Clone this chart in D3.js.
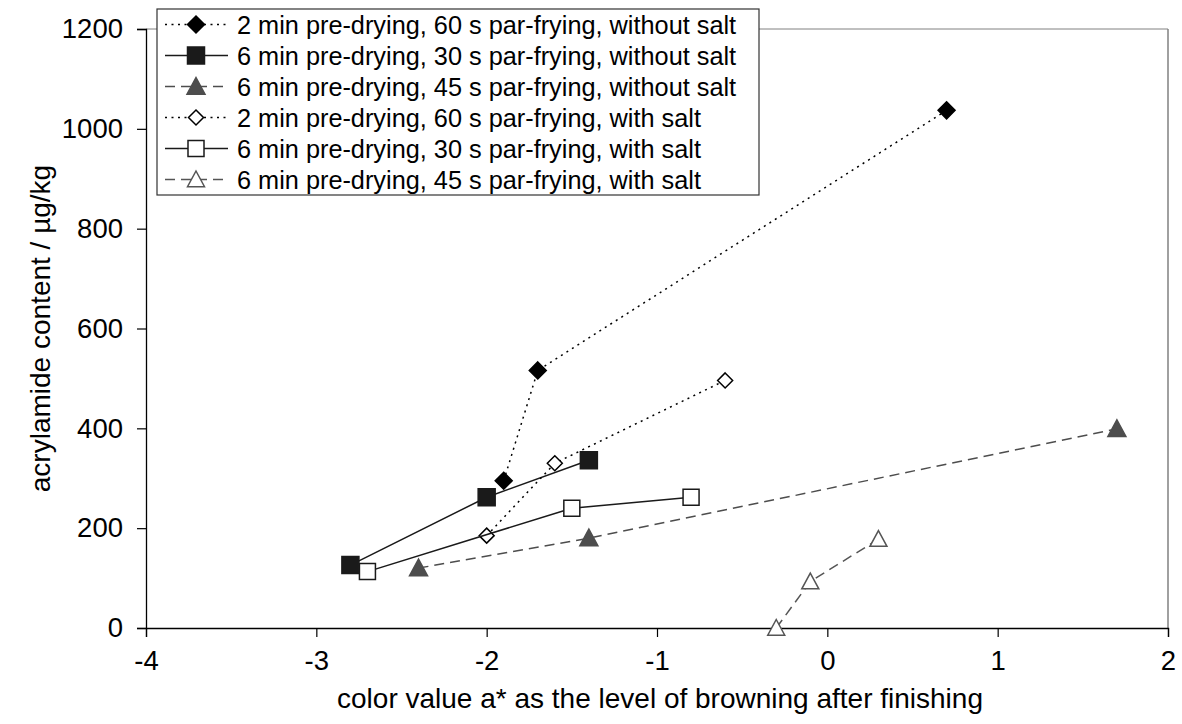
<!DOCTYPE html>
<html>
<head>
<meta charset="utf-8">
<script src="https://cdn.jsdelivr.net/npm/d3@7"></script>
<style>
  body { margin: 0; background: #fff; }
  text { font-family: "Liberation Sans", Arial, sans-serif; fill: #000; }
</style>
</head>
<body>
<svg id="chart" width="1182" height="724"></svg>
<script>
// series labels, in legend order
var seriesNames = [
  "2 min pre-drying, 60 s par-frying, without salt",
  "6 min pre-drying, 30 s par-frying, without salt",
  "6 min pre-drying, 45 s par-frying, without salt",
  "2 min pre-drying, 60 s par-frying, with salt",
  "6 min pre-drying, 30 s par-frying, with salt",
  "6 min pre-drying, 45 s par-frying, with salt"
];

// color value a* (x) and acrylamide content (y) per series
var s1x = [-1.9, -1.7, 0.7],  s1y = [295, 516, 1037];
var s2x = [-2.8, -2.0, -1.4], s2y = [126, 262, 336];
var s3x = [-2.4, -1.4, 1.7],  s3y = [120, 180, 399];
var s4x = [-2.0, -1.6, -0.6], s4y = [185, 330, 496];
var s5x = [-2.7, -1.5, -0.8], s5y = [113, 240, 262];
var s6x = [-0.3, -0.1, 0.3],  s6y = [0, 93, 178];

var xTicks = [-4, -3, -2, -1, 0, 1, 2];
var yTicks = [0, 200, 400, 600, 800, 1000, 1200];

var xTitle = "color value a* as the level of browning after finishing";
var yTitle = "acrylamide content / \u00b5g/kg";

// look of each series: marker shape, fill, stroke, line dash
var styles = [
  {shape: "diamond",  fill: "#000",    stroke: "#000",    line: "#000",    dash: "2,4.5", size: 17},
  {shape: "square",   fill: "#1a1a1a", stroke: "#1a1a1a", line: "#1a1a1a", dash: null,    size: 17},
  {shape: "triangle", fill: "#4d4d4d", stroke: "#4d4d4d", line: "#4d4d4d", dash: "10,6",  size: 18},
  {shape: "diamond",  fill: "#fff",    stroke: "#000",    line: "#000",    dash: "2,4.5", size: 15},
  {shape: "square",   fill: "#fff",    stroke: "#1a1a1a", line: "#1a1a1a", dash: null,    size: 16},
  {shape: "triangle", fill: "#fff",    stroke: "#555",    line: "#555",    dash: "10,6",  size: 17}
];

var allX = [s1x, s2x, s3x, s4x, s5x, s6x];
var allY = [s1y, s2y, s3y, s4y, s5y, s6y];

var svg = d3.select("#chart");
var plotL = 146, plotR = 1168, plotT = 29, plotB = 628;

var x = d3.scaleLinear().domain([-4, 2]).range([plotL, plotR]);
var y = d3.scaleLinear().domain([0, 1200]).range([plotB, plotT]);

// plot frame (top / right in gray)
svg.append("line").attr("x1", plotL).attr("x2", plotR).attr("y1", plotT).attr("y2", plotT)
  .attr("stroke", "#808080").attr("stroke-width", 1);
svg.append("line").attr("x1", plotR).attr("x2", plotR).attr("y1", plotT).attr("y2", plotB)
  .attr("stroke", "#808080").attr("stroke-width", 1.5);

var xAxis = svg.append("g").attr("transform", "translate(0," + plotB + ")")
  .call(d3.axisBottom(x).tickValues(xTicks).tickSize(9).tickPadding(13).tickFormat(d3.format("d")));
var yAxis = svg.append("g").attr("transform", "translate(" + plotL + ",0)")
  .call(d3.axisLeft(y).tickValues(yTicks).tickSize(9).tickPadding(14).tickFormat(d3.format("d")));

[xAxis, yAxis].forEach(function(g) {
  g.select(".domain").attr("stroke", "#000").attr("stroke-width", 1.3);
  g.selectAll(".tick line").attr("stroke", "#000").attr("stroke-width", 1.2);
  g.selectAll(".tick text").attr("font-size", 27.5).attr("font-family", "Liberation Sans, Arial, sans-serif").attr("fill", "#000");
});
xAxis.selectAll(".tick text").text(function(d) { return d < 0 ? "-" + Math.abs(d) : d; });

svg.append("text").attr("x", 660).attr("y", 708)
  .attr("text-anchor", "middle").attr("font-size", 28).text(xTitle);
svg.append("text").attr("transform", "translate(50," + ((plotT + plotB) / 2) + ") rotate(-90)")
  .attr("text-anchor", "middle").attr("font-size", 28).text(yTitle);

function markerPath(shape, s) {
  var h = s / 2;
  if (shape == "diamond") return "M0," + (-h) + "L" + h + ",0L0," + h + "L" + (-h) + ",0Z";
  if (shape == "square") return "M" + (-h) + "," + (-h) + "H" + h + "V" + h + "H" + (-h) + "Z";
  // triangle
  return "M0," + (-h) + "L" + h + "," + (h * 0.85) + "L" + (-h) + "," + (h * 0.85) + "Z";
}

var line = d3.line().x(function(d) { return x(d[0]); }).y(function(d) { return y(d[1]); });

for (var i = 0; i < allX.length; i++) {
  var st = styles[i];
  var pts = allX[i].map(function(v, k) { return [v, allY[i][k]]; });
  svg.append("path").datum(pts).attr("d", line).attr("fill", "none")
    .attr("stroke", st.line).attr("stroke-width", 1.5)
    .attr("stroke-dasharray", st.dash);
  svg.selectAll(null).data(pts).enter().append("path")
    .attr("d", markerPath(st.shape, st.size))
    .attr("transform", function(d) { return "translate(" + x(d[0]) + "," + y(d[1]) + ")"; })
    .attr("fill", st.fill).attr("stroke", st.stroke).attr("stroke-width", 1.5);
}

// legend
var lg = svg.append("g");
lg.append("rect").attr("x", 157).attr("y", 9).attr("width", 602).attr("height", 186)
  .attr("fill", "#fff").attr("stroke", "#333").attr("stroke-width", 1.2);
seriesNames.forEach(function(name, i) {
  var st = styles[i];
  var cy = 24.5 + i * 31;
  lg.append("line").attr("x1", 165).attr("x2", 228).attr("y1", cy).attr("y2", cy)
    .attr("stroke", st.line).attr("stroke-width", 1.5).attr("stroke-dasharray", st.dash);
  lg.append("path").attr("d", markerPath(st.shape, st.size))
    .attr("transform", "translate(196," + cy + ")")
    .attr("fill", st.fill).attr("stroke", st.stroke).attr("stroke-width", 1.5);
  lg.append("text").attr("x", 237).attr("y", cy).attr("dy", "0.36em")
    .attr("font-size", 25.3).text(name);
});
</script>
</body>
</html>
